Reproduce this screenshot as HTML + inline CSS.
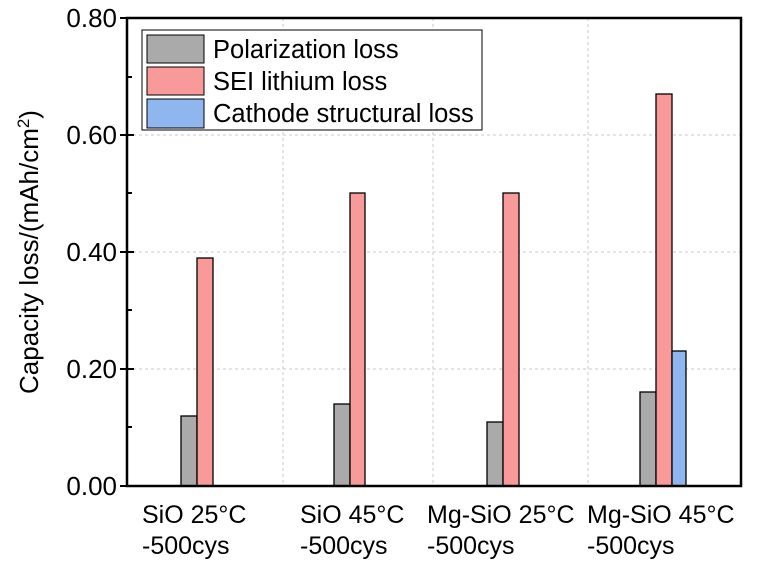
<!DOCTYPE html>
<html><head><meta charset="utf-8"><style>body{margin:0;background:#fff}</style></head><body>
<svg width="762" height="572" xmlns="http://www.w3.org/2000/svg" font-family="Liberation Sans, Arial, sans-serif">
<rect width="762" height="572" fill="#fff"/>
<g stroke="#c8c8c8" stroke-dasharray="3,3" stroke-width="1">
<line x1="283" y1="18" x2="283" y2="486"/><line x1="433" y1="18" x2="433" y2="486"/><line x1="588" y1="18" x2="588" y2="486"/>
<line x1="127" y1="135" x2="741" y2="135"/><line x1="127" y1="252" x2="741" y2="252"/><line x1="127" y1="369" x2="741" y2="369"/>
</g>
<g stroke="#000" stroke-width="1.3">
<rect x="181" y="416" width="16" height="70" fill="#aaaaaa"/>
<rect x="197" y="258" width="16" height="228" fill="#f99a9a"/>
<rect x="334" y="404" width="16" height="82" fill="#aaaaaa"/>
<rect x="350" y="193" width="15" height="293" fill="#f99a9a"/>
<rect x="487" y="422" width="16" height="64" fill="#aaaaaa"/>
<rect x="503" y="193" width="16" height="293" fill="#f99a9a"/>
<rect x="640" y="392" width="16" height="94" fill="#aaaaaa"/>
<rect x="656" y="94" width="16" height="392" fill="#f99a9a"/>
<rect x="672" y="351" width="14" height="135" fill="#8fb6ee"/>
</g>
<rect x="127" y="18" width="614" height="468" fill="none" stroke="#000" stroke-width="2.5"/>
<g stroke="#000" stroke-width="2">
<line x1="120" y1="18" x2="134" y2="18"/><line x1="120" y1="135" x2="134" y2="135"/><line x1="120" y1="252" x2="134" y2="252"/><line x1="120" y1="369" x2="134" y2="369"/><line x1="120" y1="486" x2="134" y2="486"/>
<line x1="127" y1="77" x2="132" y2="77"/><line x1="127" y1="193" x2="132" y2="193"/><line x1="127" y1="310" x2="132" y2="310"/><line x1="127" y1="427" x2="132" y2="427"/>
</g>
<g font-size="26" text-anchor="end" fill="#000">
<text x="117" y="27">0.80</text><text x="117" y="144">0.60</text><text x="117" y="261">0.40</text><text x="117" y="378">0.20</text><text x="117" y="495">0.00</text>
</g>
<text transform="translate(38,252) rotate(-90)" font-size="26" text-anchor="middle">Capacity loss/(mAh/cm<tspan dy="-9" font-size="17">2</tspan><tspan dy="9">)</tspan></text>
<g font-size="25" fill="#000">
<text x="142" y="523">SiO 25°C</text><text x="142" y="554">-500cys</text>
<text x="300" y="523">SiO 45°C</text><text x="300" y="554">-500cys</text>
<text x="427" y="523">Mg-SiO 25°C</text><text x="427" y="554">-500cys</text>
<text x="587" y="523">Mg-SiO 45°C</text><text x="587" y="554">-500cys</text>
</g>
<rect x="142" y="30" width="340" height="100" fill="#fff" stroke="#000" stroke-width="1"/>
<g stroke="#000" stroke-width="1">
<rect x="147" y="35" width="57" height="28" fill="#aaaaaa"/>
<rect x="147" y="67" width="57" height="28" fill="#f99a9a"/>
<rect x="147" y="99" width="57" height="29" fill="#8fb6ee"/>
</g>
<g font-size="25.5" fill="#000">
<text x="213" y="58">Polarization loss</text><text x="213" y="90">SEI lithium loss</text><text x="213" y="122">Cathode structural loss</text>
</g>
</svg>
</body></html>
